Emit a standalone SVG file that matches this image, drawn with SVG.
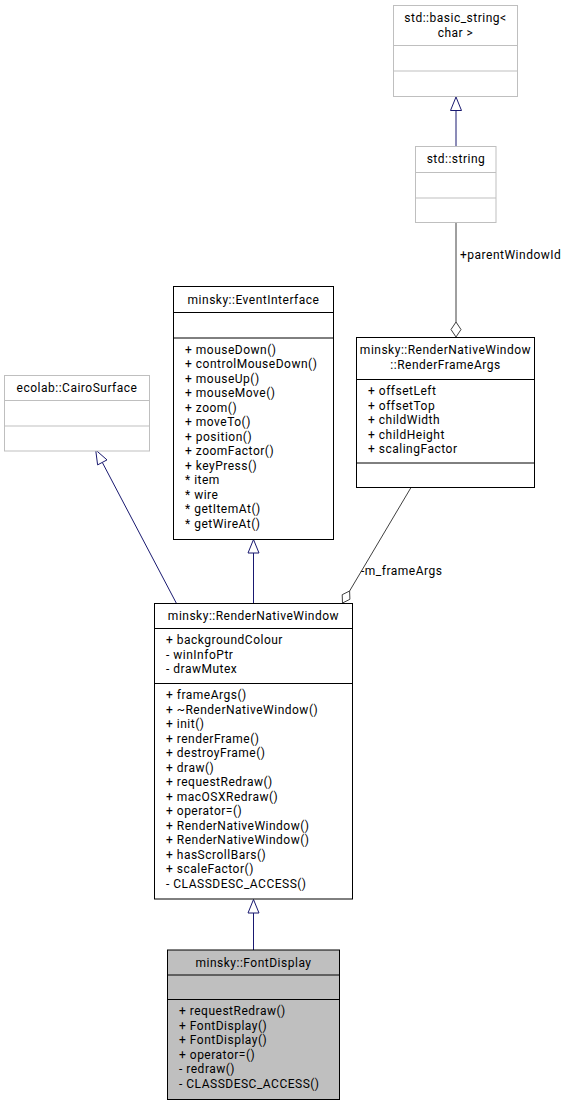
<svg xmlns="http://www.w3.org/2000/svg" width="569" height="1105" viewBox="0 0 569 1105">
<style>
text{font-family:Roboto,"Liberation Sans",sans-serif;font-size:12px;letter-spacing:0.5px;fill:#000}
.c{text-anchor:middle}
.box{fill:#fff;stroke:#000;stroke-width:1}
.gbox{fill:#fff;stroke:#bfbfbf;stroke-width:1}
.cur{fill:#bfbfbf;stroke:#000;stroke-width:1}
.div{stroke:#000;stroke-width:1}
.gdiv{stroke:#bfbfbf;stroke-width:1}
.inh{stroke:#191970;stroke-width:1;fill:none}
.inhh{stroke:#191970;stroke-width:1;fill:#fff}
.agg{stroke:#404040;stroke-width:1;fill:none}
.aggh{stroke:#404040;stroke-width:1;fill:#fff}
</style>
<rect width="569" height="1105" fill="#fff"/>
<g id="connectors">
<line class="inh" x1="456" y1="146.5" x2="456" y2="110.5"/>
<polygon class="inhh" points="456,97 450.5,110.5 461.5,110.5"/>
<line class="agg" x1="456" y1="222.5" x2="456" y2="322"/>
<polygon class="aggh" points="456,337 451,329.5 456,322 461,329.5"/>
<text x="460" y="259">+parentWindowId</text>
<line class="inh" x1="176.5" y1="603.5" x2="102.3" y2="462.4"/>
<polygon class="inhh" points="95.7,450 107,459.9 97.6,464.9"/>
<line class="inh" x1="253.5" y1="603.5" x2="253.5" y2="553"/>
<polygon class="inhh" points="253.5,539.5 248,553 259,553"/>
<line class="agg" x1="411" y1="487.5" x2="349.6" y2="591"/>
<polygon class="aggh" points="342.5,603 342.2,594.7 349.6,591 349.9,599.3"/>
<text x="361" y="575">-m_frameArgs</text>
<line class="inh" x1="253.5" y1="950" x2="253.5" y2="913"/>
<polygon class="inhh" points="253.5,899.5 248,913 259,913"/>
</g>
<g id="basic_string">
<rect class="gbox" x="393.5" y="5.5" width="124" height="91"/>
<text class="c" x="455.5" y="22">std::basic_string&lt;</text>
<text class="c" x="455.5" y="36.5">char &gt;</text>
<line class="gdiv" x1="393.5" y1="45.5" x2="517.5" y2="45.5"/>
<line class="gdiv" x1="393.5" y1="71" x2="517.5" y2="71"/>
</g>
<g id="std_string">
<rect class="gbox" x="415.5" y="146.5" width="80.5" height="76"/>
<text class="c" x="456" y="163">std::string</text>
<line class="gdiv" x1="415.5" y1="172.5" x2="496" y2="172.5"/>
<line class="gdiv" x1="415.5" y1="198" x2="496" y2="198"/>
</g>
<g id="CairoSurface">
<rect class="gbox" x="4.5" y="375.5" width="145" height="75.5"/>
<text class="c" x="77" y="391.5">ecolab::CairoSurface</text>
<line class="gdiv" x1="4.5" y1="400.5" x2="149.5" y2="400.5"/>
<line class="gdiv" x1="4.5" y1="426" x2="149.5" y2="426"/>
</g>
<g id="EventInterface">
<rect class="box" x="173.5" y="286.5" width="160" height="253"/>
<text class="c" x="253.5" y="303.5">minsky::EventInterface</text>
<line class="div" x1="173.5" y1="312.5" x2="333.5" y2="312.5"/>
<line class="div" x1="173.5" y1="338" x2="333.5" y2="338"/>
<text x="185" y="353.5">+ mouseDown()</text>
<text x="185" y="368">+ controlMouseDown()</text>
<text x="185" y="382.5">+ mouseUp()</text>
<text x="185" y="397">+ mouseMove()</text>
<text x="185" y="411.5">+ zoom()</text>
<text x="185" y="426">+ moveTo()</text>
<text x="185" y="440.5">+ position()</text>
<text x="185" y="455">+ zoomFactor()</text>
<text x="185" y="469.5">+ keyPress()</text>
<text x="185" y="484">* item</text>
<text x="185" y="498.5">* wire</text>
<text x="185" y="513">* getItemAt()</text>
<text x="185" y="527.5">* getWireAt()</text>
</g>
<g id="RenderFrameArgs">
<rect class="box" x="356.5" y="337.5" width="178" height="150"/>
<text class="c" x="445.5" y="354">minsky::RenderNativeWindow</text>
<text class="c" x="445.5" y="368.5">::RenderFrameArgs</text>
<line class="div" x1="356.5" y1="379.5" x2="534.5" y2="379.5"/>
<line class="div" x1="356.5" y1="463" x2="534.5" y2="463"/>
<text x="368" y="395">+ offsetLeft</text>
<text x="368" y="409.5">+ offsetTop</text>
<text x="368" y="424">+ childWidth</text>
<text x="368" y="438.5">+ childHeight</text>
<text x="368" y="453">+ scalingFactor</text>
</g>
<g id="RenderNativeWindow">
<rect class="box" x="154.5" y="603.5" width="198" height="295.5"/>
<text class="c" x="253.5" y="620">minsky::RenderNativeWindow</text>
<line class="div" x1="154.5" y1="628.5" x2="352.5" y2="628.5"/>
<line class="div" x1="154.5" y1="683.5" x2="352.5" y2="683.5"/>
<text x="166" y="644">+ backgroundColour</text>
<text x="166" y="658.5">- winInfoPtr</text>
<text x="166" y="673">- drawMutex</text>
<text x="166" y="699">+ frameArgs()</text>
<text x="166" y="713.5">+ ~RenderNativeWindow()</text>
<text x="166" y="728">+ init()</text>
<text x="166" y="742.5">+ renderFrame()</text>
<text x="166" y="757">+ destroyFrame()</text>
<text x="166" y="771.5">+ draw()</text>
<text x="166" y="786">+ requestRedraw()</text>
<text x="166" y="800.5">+ macOSXRedraw()</text>
<text x="166" y="815">+ operator=()</text>
<text x="166" y="829.5">+ RenderNativeWindow()</text>
<text x="166" y="844">+ RenderNativeWindow()</text>
<text x="166" y="858.5">+ hasScrollBars()</text>
<text x="166" y="873">+ scaleFactor()</text>
<text x="166" y="887.5">- CLASSDESC_ACCESS()</text>
</g>
<g id="FontDisplay">
<rect class="cur" x="167.5" y="950" width="172" height="149.5"/>
<text class="c" x="253.5" y="966.5">minsky::FontDisplay</text>
<line class="div" x1="167.5" y1="975" x2="339.5" y2="975"/>
<line class="div" x1="167.5" y1="999.5" x2="339.5" y2="999.5"/>
<text x="179" y="1015">+ requestRedraw()</text>
<text x="179" y="1029.5">+ FontDisplay()</text>
<text x="179" y="1044">+ FontDisplay()</text>
<text x="179" y="1058.5">+ operator=()</text>
<text x="179" y="1073">- redraw()</text>
<text x="179" y="1087.5">- CLASSDESC_ACCESS()</text>
</g>
</svg>
